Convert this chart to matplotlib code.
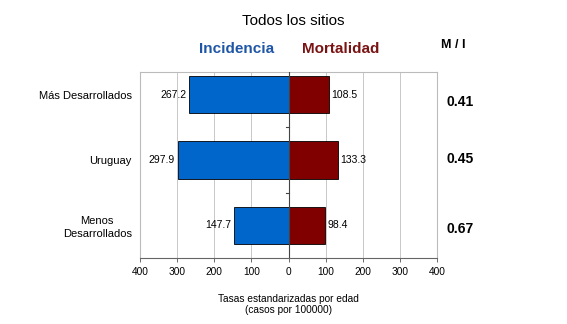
import matplotlib
matplotlib.use("Agg")
import matplotlib.pyplot as plt
import numpy as np

plt.rcParams.update({
    "font.family": ["Liberation Sans", "DejaVu Sans"],
})

# data
categories = ["Más Desarrollados", "Uruguay", "Menos\nDesarrollados"]
incidencia = [267.2, 297.9, 147.7]
mortalidad = [108.5, 133.3, 98.4]
ratio_mi   = ["0.41", "0.45", "0.67"]
ticks      = [-400, -300, -200, -100, 0, 100, 200, 300, 400]

BLUE = "#0066CC"
RED  = "#800000"

fig = plt.figure(figsize=(5.67, 3.24), dpi=100)
ax = fig.add_axes([0.247, 0.204, 0.524, 0.574])

y = np.arange(len(categories))
ax.barh(y, [-v for v in incidencia], height=0.57, color=BLUE,
        edgecolor="black", linewidth=0.6, zorder=3)
ax.barh(y, mortalidad, height=0.57, color=RED,
        edgecolor="black", linewidth=0.6, zorder=3)

for yi, v in zip(y, incidencia):
    ax.text(-v - 8, yi, f"{v:.1f}", ha="right", va="center", fontsize=7.5)
for yi, v in zip(y, mortalidad):
    ax.text(v + 6, yi, f"{v:.1f}", ha="left", va="center", fontsize=7.5)

ax.set_xlim(-400, 400)
ax.set_ylim(len(categories) - 0.5, -0.35)
ax.set_xticks(ticks)
ax.set_xticklabels([str(abs(t)) for t in ticks], fontsize=7.3)
ax.set_yticks(y)
ax.set_yticklabels(categories, fontsize=8, linespacing=1.3)
for lbl in ax.get_yticklabels():
    lbl.set_multialignment("center")
ax.tick_params(axis="y", length=0, pad=6)
ax.tick_params(axis="x", length=3, width=0.6, color="#555555")
ax.grid(True, axis="x", color="#c8c8c8", linewidth=0.7, zorder=0)

for s in ax.spines.values():
    s.set_color("#bbbbbb")
    s.set_linewidth(0.8)
ax.spines["bottom"].set_color("#666666")

# central axis at zero with small category ticks
ax.axvline(0, color="#444444", linewidth=0.8, zorder=4)
for b in [0.5, 1.5]:
    ax.plot([-6, 0], [b, b], color="#444444", linewidth=0.8, zorder=4)

ax.set_xlabel("Tasas estandarizadas por edad\n(casos por 100000)",
              fontsize=7.3, labelpad=12)

fig.text(0.518, 0.935, "Todos los sitios", ha="center", va="center", fontsize=11)
fig.text(0.418, 0.85, "Incidencia", ha="center", va="center",
         fontsize=11, fontweight="bold", color="#1F56A6")
fig.text(0.60, 0.85, "Mortalidad", ha="center", va="center",
         fontsize=11, fontweight="bold", color="#7A1414")
fig.text(0.80, 0.86, "M / I", ha="center", va="center",
         fontsize=9, fontweight="bold")

fig_y = [0.685, 0.51, 0.294]
for fy, r in zip(fig_y, ratio_mi):
    fig.text(0.812, fy, r, ha="center", va="center",
             fontsize=10, fontweight="bold")

fig.savefig("out.png", dpi=100)
